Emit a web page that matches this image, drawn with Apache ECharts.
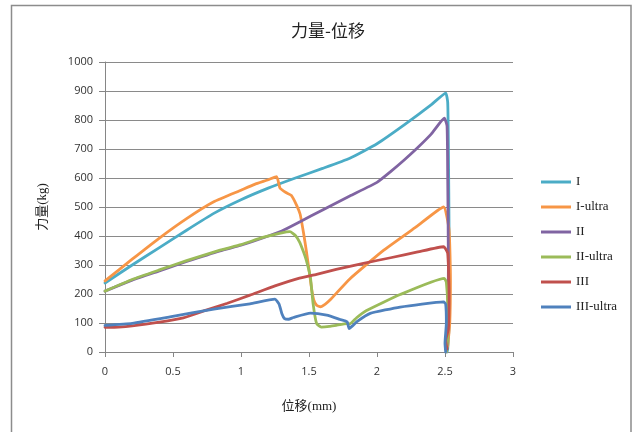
<!DOCTYPE html>
<html>
<head>
<meta charset="utf-8">
<script src="https://cdn.jsdelivr.net/npm/echarts@6/dist/echarts.min.js"></script>
<style>html,body{margin:0;padding:0;background:#fff;}#c{width:634px;height:432px;}</style>
</head>
<body>
<div id="c"></div>
<script>
var seriesNames = ['I', 'I-ultra', 'II', 'II-ultra', 'III', 'III-ultra'];
var seriesColors = ['#4BACC6', '#F79646', '#8064A2', '#9BBB59', '#C0504D', '#4F81BD'];

var I_x = [0, 0.2, 0.4, 0.6, 0.8, 1.0, 1.2, 1.4, 1.6, 1.8, 2.0, 2.2, 2.4, 2.505, 2.52, 2.525, 2.53, 2.53, 2.52, 2.515];
var I_y = [238, 300, 360, 420, 478, 525, 565, 600, 633, 668, 718, 783, 853, 893, 860, 700, 400, 100, 10, 0];

var Iu_x = [0, 0.2, 0.4, 0.6, 0.8, 1.0, 1.1, 1.2, 1.262, 1.287, 1.33, 1.37, 1.41, 1.435, 1.46, 1.48, 1.495, 1.51, 1.52, 1.535, 1.556, 1.585, 1.62, 1.654, 1.8, 2.05, 2.29, 2.49, 2.53, 2.54, 2.535, 2.52];
var Iu_y = [245, 320, 393, 460, 518, 558, 578, 594, 605, 565, 550, 540, 505, 475, 410, 350, 300, 250, 215, 180, 161, 156, 165, 179, 252, 351, 432, 500, 420, 250, 100, 20];

var II_x = [0, 0.2, 0.4, 0.6, 0.846, 1.0, 1.16, 1.3, 1.434, 1.6, 1.8, 2.0, 2.1, 2.2, 2.3, 2.4, 2.495, 2.515, 2.52, 2.525, 2.52, 2.51];
var II_y = [210, 248, 280, 312, 349, 368, 393, 417, 449, 490, 538, 585, 622, 662, 705, 752, 806, 780, 600, 300, 50, 0];

var IIu_x = [0, 0.2, 0.4, 0.6, 0.846, 1.0, 1.16, 1.3, 1.36, 1.4, 1.43, 1.46, 1.48, 1.51, 1.53, 1.556, 1.59, 1.65, 1.70, 1.78, 1.80, 1.85, 1.92, 2.17, 2.495, 2.51, 2.52, 2.52, 2.51];
var IIu_y = [210, 250, 283, 315, 351, 370, 395, 411, 415, 402, 380, 345, 317, 259, 167, 98, 86, 88, 92, 98, 97, 118, 142, 198, 254, 240, 150, 50, 0];

var III_x = [0, 0.1, 0.2, 0.4, 0.576, 0.75, 0.9, 1.066, 1.25, 1.43, 1.556, 1.7, 1.9, 2.1, 2.3, 2.49, 2.52, 2.53, 2.525, 2.505, 2.515];
var III_y = [85, 86, 90, 103, 118, 145, 168, 196, 228, 255, 268, 285, 306, 325, 345, 363, 340, 200, 80, 40, 10];

var IIIu_x = [0, 0.2, 0.478, 0.8, 1.066, 1.25, 1.28, 1.30, 1.32, 1.35, 1.385, 1.51, 1.63, 1.73, 1.78, 1.795, 1.82, 1.85, 1.95, 2.17, 2.49, 2.505, 2.51, 2.5, 2.505];
var IIIu_y = [92, 99, 121, 148, 166, 182, 165, 133, 115, 113, 119, 134, 127, 112, 104, 81, 90, 104, 133, 155, 173, 165, 100, 30, 0];

var xTicks = [0, 0.5, 1, 1.5, 2, 2.5, 3];
var yTicks = [0, 100, 200, 300, 400, 500, 600, 700, 800, 900, 1000];

var allX = [I_x, Iu_x, II_x, IIu_x, III_x, IIIu_x];
var allY = [I_y, Iu_y, II_y, IIu_y, III_y, IIIu_y];

function zip(xs, ys) { return xs.map(function (x, i) { return [x, ys[i]]; }); }

var serifCJK = '"Liberation Serif", "Times New Roman", "Noto Sans CJK SC", serif';

var chart = echarts.init(document.getElementById('c'), null, { renderer: 'canvas' });
chart.setOption({
  animation: false,
  backgroundColor: '#ffffff',
  color: seriesColors,
  graphic: [{
    type: 'rect',
    shape: { x: 11.5, y: 5.5, width: 619.5, height: 450 },
    style: { fill: 'none', stroke: '#8c8c8c', lineWidth: 1.5 },
    silent: true
  }],
  title: {
    text: '力量-位移',
    left: 323,
    textAlign: 'center',
    top: 17,
    textStyle: { fontFamily: '"Noto Sans CJK SC", sans-serif', fontSize: 17, fontWeight: 'normal', color: '#222' }
  },
  legend: {
    orient: 'vertical',
    left: 536,
    top: 170,
    itemWidth: 30,
    itemHeight: 3,
    itemGap: 11,
    icon: 'rect',
    data: seriesNames,
    textStyle: { fontFamily: serifCJK, fontSize: 13, color: '#222', lineHeight: 14 }
  },
  grid: { left: 105, right: 121, top: 62, bottom: 80, containLabel: false },
  xAxis: {
    type: 'value',
    min: xTicks[0],
    max: xTicks[xTicks.length - 1],
    interval: 0.5,
    name: '位移(mm)',
    nameLocation: 'middle',
    nameGap: 48,
    nameTextStyle: { fontFamily: serifCJK, fontSize: 13, fontWeight: 'normal', color: '#222' },
    axisLine: { show: true, lineStyle: { color: '#868686', width: 1 } },
    axisTick: { show: true, length: 5, lineStyle: { color: '#868686' } },
    axisLabel: { margin: 14, fontFamily: '"Open Sans", sans-serif', fontSize: 11, color: '#333',
      formatter: function (v) { return String(v); } },
    splitLine: { show: false }
  },
  yAxis: {
    type: 'value',
    min: yTicks[0],
    max: yTicks[yTicks.length - 1],
    interval: 100,
    name: '力量(kg)',
    nameLocation: 'middle',
    nameGap: 56,
    nameRotate: 90,
    nameTextStyle: { fontFamily: serifCJK, fontSize: 13, fontWeight: 'normal', color: '#222' },
    axisLine: { show: true, lineStyle: { color: '#868686', width: 1 } },
    axisTick: { show: true, length: 6, lineStyle: { color: '#868686' } },
    axisLabel: { margin: 12, fontFamily: '"Open Sans", sans-serif', fontSize: 11, color: '#333',
      formatter: function (v) { return String(v); } },
    splitLine: { show: true, lineStyle: { color: '#8a8a8a', width: 1 } }
  },
  series: seriesNames.map(function (n, i) {
    return {
      name: n,
      type: 'line',
      data: zip(allX[i], allY[i]),
      showSymbol: false,
      symbol: 'none',
      smooth: 0.15,
      lineStyle: { width: 2.8, color: seriesColors[i], cap: 'round', join: 'round' },
      itemStyle: { color: seriesColors[i] }
    };
  })
});
</script>
</body>
</html>
